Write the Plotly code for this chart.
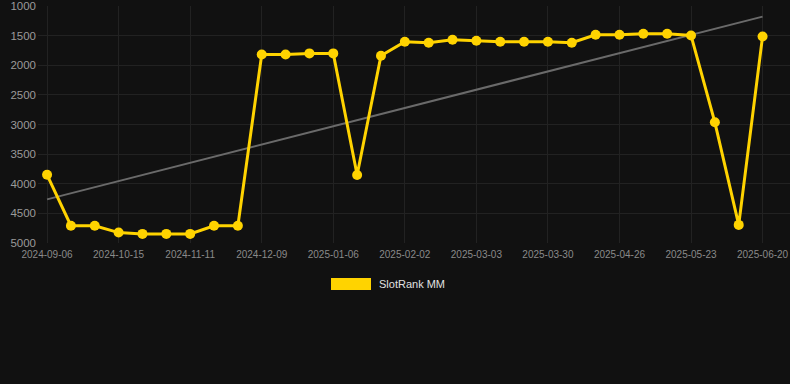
import numpy as np
import plotly.graph_objects as go

dates = [
    "2024-09-06", "2024-09-19", "2024-10-02", "2024-10-15", "2024-10-24", "2024-11-02",
    "2024-11-11", "2024-11-20", "2024-11-29", "2024-12-09", "2024-12-18", "2024-12-27",
    "2025-01-06", "2025-01-15", "2025-01-24", "2025-02-02", "2025-02-11", "2025-02-22",
    "2025-03-03", "2025-03-12", "2025-03-21", "2025-03-30", "2025-04-08", "2025-04-17",
    "2025-04-26", "2025-05-05", "2025-05-14", "2025-05-23", "2025-06-01", "2025-06-10",
    "2025-06-20",
]
ranks = [
    3850, 4710, 4710, 4826, 4848, 4848, 4848, 4710, 4710, 1816, 1816, 1799, 1799,
    3852, 1838, 1602, 1619, 1568, 1585, 1602, 1602, 1602, 1619, 1484, 1484, 1467,
    1467, 1495, 2963, 4696, 1512,
]
tick_labels = [
    "2024-09-06", "2024-10-15", "2024-11-11", "2024-12-09", "2025-01-06", "2025-02-02",
    "2025-03-03", "2025-03-30", "2025-04-26", "2025-05-23", "2025-06-20",
]
y_ticks = [1000, 1500, 2000, 2500, 3000, 3500, 4000, 4500, 5000]
series_name = "SlotRank MM"

YELLOW = "#FFD300"
BG = "#111111"
GRID = "#222222"
W, H = 790, 384
ML, MR, MT, MB = 38, 0, 6, 141

idx = np.arange(len(ranks))
slope, intercept = np.polyfit(idx, ranks, 1)
trend = slope * idx + intercept

fig = go.Figure()
fig.add_trace(go.Scatter(
    x=dates, y=trend, mode="lines",
    line=dict(color="#6a6a6a", width=2),
    showlegend=False, hoverinfo="skip",
))
fig.add_trace(go.Scatter(
    x=dates, y=ranks, mode="lines+markers", name=series_name,
    line=dict(color=YELLOW, width=3),
    marker=dict(color=YELLOW, size=10),
    showlegend=False,
))

pw = W - ML - MR
ph = H - MT - MB


def px_x(p):
    return (p - ML) / pw


def px_y(p):
    return (H - MB - p) / ph


# legend swatch + label
fig.add_shape(type="rect", xref="paper", yref="paper",
              x0=px_x(331), x1=px_x(371), y0=px_y(290), y1=px_y(278),
              fillcolor=YELLOW, line=dict(width=0))
fig.add_annotation(xref="paper", yref="paper", x=px_x(377), y=px_y(284),
                   text=series_name, showarrow=False, xanchor="left", yanchor="middle",
                   font=dict(size=11, color="#e0e0e0", family="Liberation Sans, Arial, sans-serif"))

fig.update_layout(
    width=W, height=H,
    margin=dict(l=ML, r=MR, t=MT, b=MB),
    paper_bgcolor=BG, plot_bgcolor=BG,
    font=dict(family="Liberation Sans, Arial, sans-serif", color="#9a9a9a"),
    showlegend=False,
    xaxis=dict(
        type="category", categoryorder="array", categoryarray=dates,
        range=[-0.38, 31.15],
        tickmode="array", tickvals=tick_labels, ticktext=tick_labels,
        showgrid=True, gridcolor=GRID, zeroline=False, showline=False,
        tickfont=dict(size=10, color="#8a8a8a"),
        ticks="", ticklabelstandoff=4, ticklabeloverflow="allow",
    ),
    yaxis=dict(
        range=[5002, 998], tickvals=y_ticks,
        showgrid=True, gridcolor=GRID, zeroline=False, showline=False,
        tickfont=dict(size=11.5, color="#9a9a9a"),
        ticks="", ticklabelstandoff=1, ticklabeloverflow="allow",
    ),
)

fig.write_html(
    "out.html",
    config={"displayModeBar": False},
    post_script="document.body.style.margin='0';document.body.style.background='#111111';",
)
